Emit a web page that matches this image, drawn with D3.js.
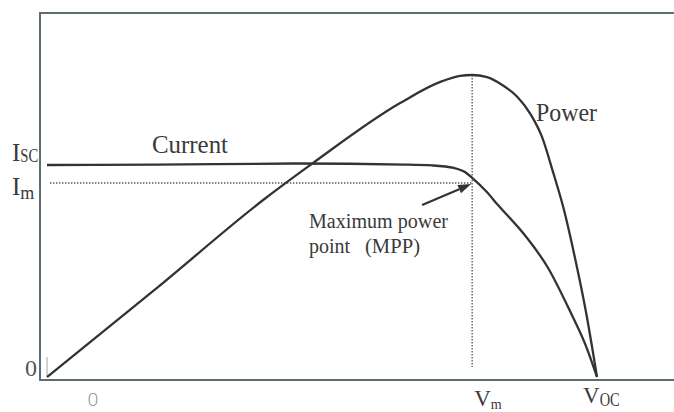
<!DOCTYPE html>
<html>
<head>
<meta charset="utf-8">
<script src="https://cdn.jsdelivr.net/npm/d3@7"></script>
<style>
  html, body { margin: 0; padding: 0; background: #fff; }
  svg { display: block; }
  .serif { font-family: "Liberation Serif", "DejaVu Serif", serif; fill: #3a3a3a; }
</style>
</head>
<body>
<svg id="chart" width="674" height="412"></svg>
<script>
// Photovoltaic cell I–V and P–V characteristic (normalised units)
// Voltage as a fraction of the open-circuit voltage Voc
const currentVoltage = [0, 0.2, 0.45, 0.65, 0.70, 0.74, 0.76, 0.773, 0.798, 0.82, 0.87, 0.91, 0.95, 0.98, 1.0];
// Current as a fraction of the short-circuit current Isc
const currentValues  = [1.0, 1.002, 1.007, 1.002, 0.998, 0.986, 0.967, 0.939, 0.877, 0.811, 0.665, 0.519, 0.316, 0.146, 0];

const powerVoltage = [0, 0.2, 0.393, 0.484, 0.642, 0.715, 0.751, 0.773, 0.80, 0.827, 0.855, 0.88, 0.90, 0.92, 0.94, 0.96, 0.98, 1.0];
// Power as a fraction of the maximum power
const powerValues  = [0, 0.295, 0.586, 0.709, 0.907, 0.977, 0.997, 1.0, 0.993, 0.968, 0.928, 0.868, 0.795, 0.679, 0.553, 0.394, 0.215, 0];

// Maximum power point (guide lines)
const mppVoltage = 0.773;
const mppCurrent = 0.915;

const svg = d3.select("#chart");

// Frame
const frame = { left: 40, top: 13, right: 674, bottom: 380 };

const x = d3.scaleLinear().domain([0, 1]).range([47, 597]);
const yI = d3.scaleLinear().domain([0, 1]).range([377, 165]);
const yP = d3.scaleLinear().domain([0, 1]).range([377, 75]);

const frameColor = "#5f6d72";
svg.append("path")
  .attr("d", `M${frame.right},${frame.top}H${frame.left}V${frame.bottom}H${frame.right}`)
  .attr("fill", "none")
  .attr("stroke", frameColor)
  .attr("stroke-width", 2);

// small origin mark
svg.append("line")
  .attr("x1", x(0)).attr("x2", x(0))
  .attr("y1", yI(0) - 20).attr("y2", yI(0))
  .attr("stroke", "#a0a8aa").attr("stroke-width", 1);

// Dotted guides through the MPP
const guide = svg.append("g")
  .attr("stroke", "#555")
  .attr("stroke-width", 1.3)
  .attr("stroke-dasharray", "1.4,1.6");
guide.append("line")
  .attr("x1", 50).attr("x2", x(mppVoltage))
  .attr("y1", yI(mppCurrent)).attr("y2", yI(mppCurrent));
guide.append("line")
  .attr("x1", x(mppVoltage)).attr("x2", x(mppVoltage))
  .attr("y1", yP(1)).attr("y2", 367);

// Curves
const currentLine = d3.line()
  .x((d, i) => x(currentVoltage[i]))
  .y(d => yI(d))
  .curve(d3.curveMonotoneX);
const powerLine = d3.line()
  .x((d, i) => x(powerVoltage[i]))
  .y(d => yP(d))
  .curve(d3.curveMonotoneX);

svg.append("path")
  .attr("d", currentLine(currentValues))
  .attr("fill", "none").attr("stroke", "#333").attr("stroke-width", 2.3);
svg.append("path")
  .attr("d", powerLine(powerValues))
  .attr("fill", "none").attr("stroke", "#333").attr("stroke-width", 2.3);

// Arrow to the MPP
const tip = [x(mppVoltage) - 1, yI(mppCurrent) + 1];
const tail = [tip[0] - 49, tip[1] + 21];
const ang = Math.atan2(tip[1] - tail[1], tip[0] - tail[0]);
const headLen = 13, headW = 4.5;
const base = [tip[0] - headLen * Math.cos(ang), tip[1] - headLen * Math.sin(ang)];
svg.append("line")
  .attr("x1", tail[0]).attr("y1", tail[1])
  .attr("x2", base[0]).attr("y2", base[1])
  .attr("stroke", "#333").attr("stroke-width", 2.2);
svg.append("path")
  .attr("d", `M${tip[0]},${tip[1]}L${base[0] - headW * Math.sin(ang)},${base[1] + headW * Math.cos(ang)}L${base[0] + headW * Math.sin(ang)},${base[1] - headW * Math.cos(ang)}Z`)
  .attr("fill", "#333");

// Curve labels
svg.append("text").attr("class", "serif")
  .attr("x", 152).attr("y", 153)
  .attr("font-size", 26).attr("textLength", 76).attr("lengthAdjust", "spacingAndGlyphs")
  .text("Current");
svg.append("text").attr("class", "serif")
  .attr("x", 536).attr("y", 121)
  .attr("font-size", 26).attr("textLength", 61).attr("lengthAdjust", "spacingAndGlyphs")
  .text("Power");
svg.append("text").attr("class", "serif")
  .attr("x", 309).attr("y", 228)
  .attr("font-size", 20).attr("textLength", 139).attr("lengthAdjust", "spacingAndGlyphs")
  .text("Maximum power");
svg.append("text").attr("class", "serif")
  .attr("x", 309).attr("y", 253)
  .attr("font-size", 20)
  .text("point");
svg.append("text").attr("class", "serif")
  .attr("x", 365).attr("y", 253)
  .attr("font-size", 20).attr("textLength", 55).attr("lengthAdjust", "spacingAndGlyphs")
  .text("(MPP)");

// Y-axis labels
const isc = svg.append("text").attr("class", "serif").attr("x", 12).attr("y", 161).attr("font-size", 25);
isc.append("tspan").text("I");
isc.append("tspan").attr("font-size", 18).attr("dy", 1).attr("textLength", 18).attr("lengthAdjust", "spacingAndGlyphs").text("SC");
const im = svg.append("text").attr("class", "serif").attr("x", 12).attr("y", 195).attr("font-size", 25);
im.append("tspan").text("I");
im.append("tspan").attr("font-size", 18).attr("dy", 4).text("m");
svg.append("text").attr("class", "serif")
  .attr("x", 25).attr("y", 376).attr("font-size", 24).style("fill", "#555")
  .text("0");

// X-axis labels
svg.append("text")
  .attr("x", 93).attr("y", 406)
  .attr("text-anchor", "middle")
  .attr("font-family", "'Open Sans', sans-serif").attr("font-size", 19)
  .attr("fill", "#7d8b8d").attr("font-weight", 300)
  .text("0");
const vm = svg.append("text").attr("class", "serif").attr("x", x(mppVoltage) + 2).attr("y", 406).attr("font-size", 23);
vm.append("tspan").text("V");
vm.append("tspan").attr("font-size", 14).attr("dy", 3).text("m");
const voc = svg.append("text").attr("class", "serif").attr("x", x(1) - 14).attr("y", 403).attr("font-size", 23);
voc.append("tspan").text("V");
voc.append("tspan").attr("font-size", 19).attr("dy", 3).attr("textLength", 20).attr("lengthAdjust", "spacingAndGlyphs").text("OC");
</script>
</body>
</html>
